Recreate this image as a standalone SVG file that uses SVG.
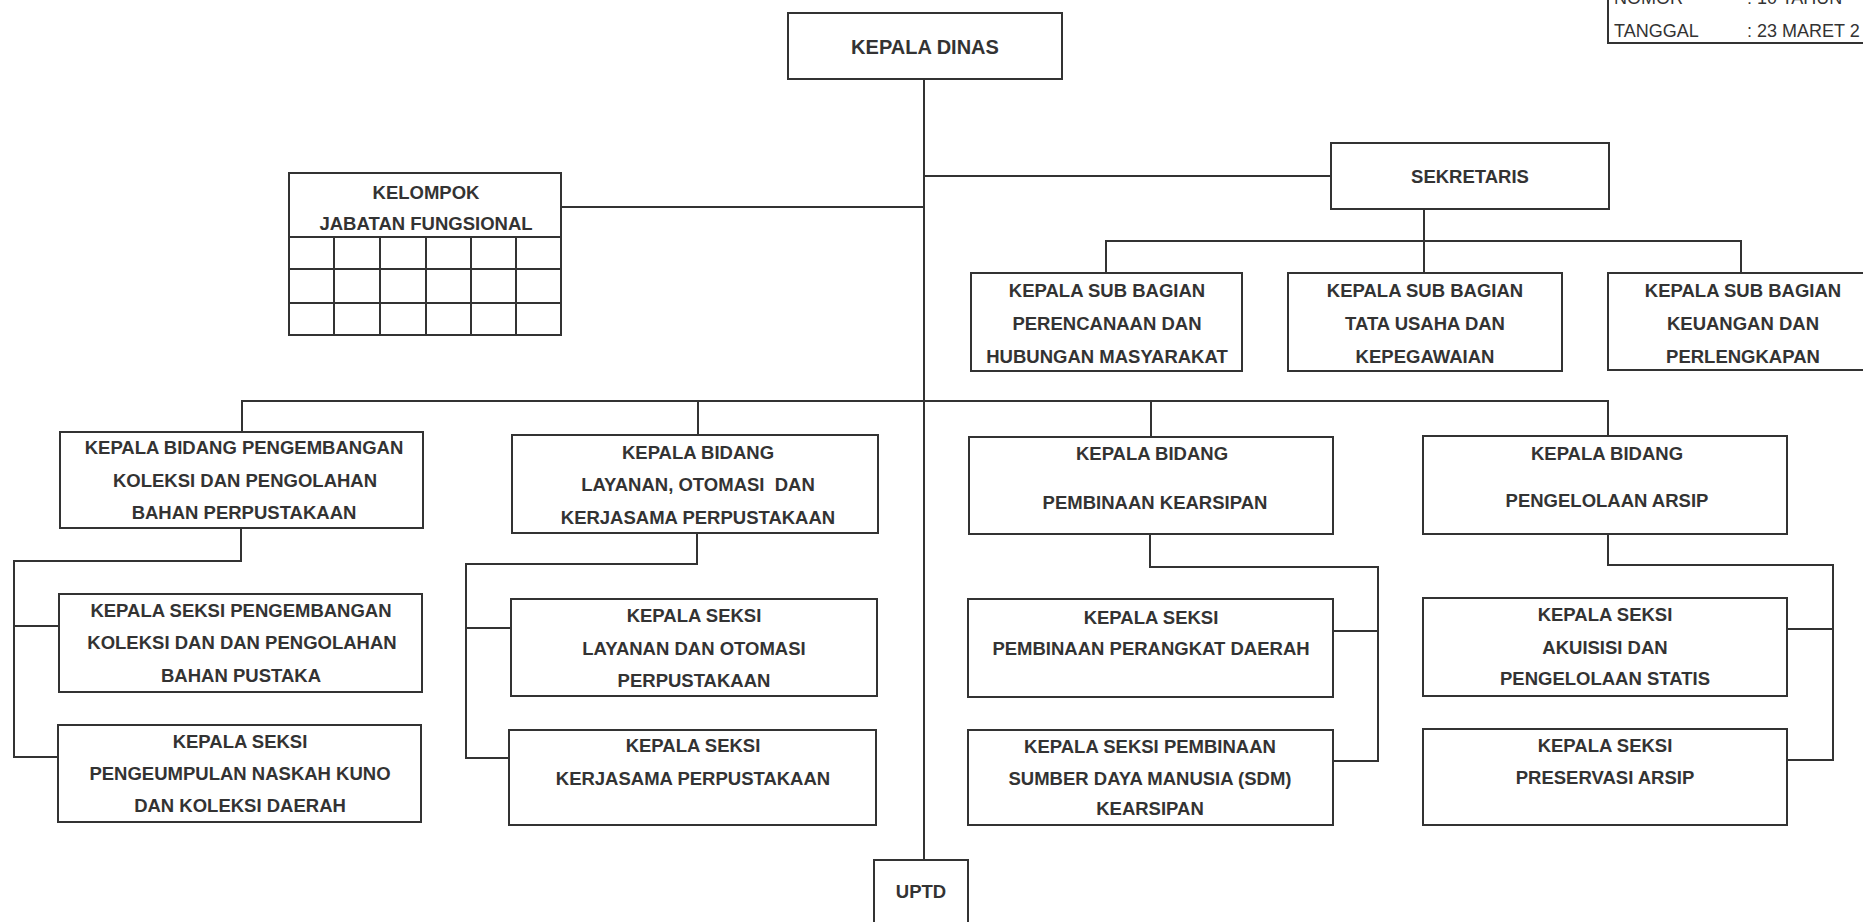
<svg xmlns="http://www.w3.org/2000/svg" width="1863" height="922" viewBox="0 0 1863 922">
<style>
.box{fill:#fff;stroke:#333;stroke-width:2}
.ln{fill:none;stroke:#333;stroke-width:2}
.t{font-family:"Liberation Sans",Arial,sans-serif;font-weight:bold;font-size:18.5px;fill:#333;text-anchor:middle}
.h{font-size:20px}
.r{font-family:"Liberation Sans",Arial,sans-serif;font-size:18px;fill:#333}
</style>
<rect width="1863" height="922" fill="#fff"/>
<g id="connectors" class="ln">
<path d="M924 79V860"/>
<path d="M561 207H924"/>
<path d="M924 176H1331"/>
<path d="M1424 209V273M1106 273V241H1741V273"/>
<path d="M242 432V401H1608V436M698 401V435M1151 401V437"/>
<path d="M241 528V561H14V757H58M14 626H59"/>
<path d="M697 533V564H466V758H509M466 628H511"/>
<path d="M1150 534V567H1378V761H1333M1378 631H1333"/>
<path d="M1608 534V565H1833V760H1787M1833 629H1787"/>
</g>
<g id="legend">
<path class="ln" d="M1608 -2V43H1865"/>
<text class="r" x="1614" y="4">NOMOR</text>
<text class="r" x="1747" y="4">: 10 TAHUN</text>
<text class="r" x="1614" y="37">TANGGAL</text>
<text class="r" x="1747" y="37">: 23 MARET 2</text>
</g>
<g id="kepala-dinas">
<rect class="box" x="788" y="13" width="274" height="66"/>
<text class="t h" x="925" y="54">KEPALA DINAS</text>
</g>
<g id="kelompok">
<rect class="box" x="289" y="173" width="272" height="162"/>
<path class="ln" d="M289 237H561M289 269H561M289 303H561M334 237V335M380 237V335M426 237V335M471 237V335M516 237V335"/>
<text class="t" x="426" y="199">KELOMPOK</text>
<text class="t" x="426" y="230">JABATAN FUNGSIONAL</text>
</g>
<g id="sekretaris">
<rect class="box" x="1331" y="143" width="278" height="66"/>
<text class="t" x="1470" y="183">SEKRETARIS</text>
</g>
<g id="subbag-perencanaan">
<rect class="box" x="971" y="273" width="271" height="98"/>
<text class="t" x="1107" y="297">KEPALA SUB BAGIAN</text>
<text class="t" x="1107" y="330">PERENCANAAN DAN</text>
<text class="t" x="1107" y="363">HUBUNGAN MASYARAKAT</text>
</g>
<g id="subbag-tatausaha">
<rect class="box" x="1288" y="273" width="274" height="98"/>
<text class="t" x="1425" y="297">KEPALA SUB BAGIAN</text>
<text class="t" x="1425" y="330">TATA USAHA DAN</text>
<text class="t" x="1425" y="363">KEPEGAWAIAN</text>
</g>
<g id="subbag-keuangan">
<rect class="box" x="1608" y="273" width="270" height="97"/>
<text class="t" x="1743" y="297">KEPALA SUB BAGIAN</text>
<text class="t" x="1743" y="330">KEUANGAN DAN</text>
<text class="t" x="1743" y="363">PERLENGKAPAN</text>
</g>
<g id="bidang-pengembangan">
<rect class="box" x="60" y="432" width="363" height="96"/>
<text class="t" x="244" y="454">KEPALA BIDANG PENGEMBANGAN</text>
<text class="t" x="245" y="487">KOLEKSI DAN PENGOLAHAN</text>
<text class="t" x="244" y="519">BAHAN PERPUSTAKAAN</text>
</g>
<g id="seksi-pengembangan">
<rect class="box" x="59" y="594" width="363" height="98"/>
<text class="t" x="241" y="617">KEPALA SEKSI PENGEMBANGAN</text>
<text class="t" x="242" y="649">KOLEKSI DAN DAN PENGOLAHAN</text>
<text class="t" x="241" y="682">BAHAN PUSTAKA</text>
</g>
<g id="seksi-naskah">
<rect class="box" x="58" y="725" width="363" height="97"/>
<text class="t" x="240" y="748">KEPALA SEKSI</text>
<text class="t" x="240" y="780">PENGEUMPULAN NASKAH KUNO</text>
<text class="t" x="240" y="812">DAN KOLEKSI DAERAH</text>
</g>
<g id="bidang-layanan">
<rect class="box" x="512" y="435" width="366" height="98"/>
<text class="t" x="698" y="459">KEPALA BIDANG</text>
<text class="t" x="698" y="491">LAYANAN, OTOMASI&#160; DAN</text>
<text class="t" x="698" y="524">KERJASAMA PERPUSTAKAAN</text>
</g>
<g id="seksi-layanan">
<rect class="box" x="511" y="599" width="366" height="97"/>
<text class="t" x="694" y="622">KEPALA SEKSI</text>
<text class="t" x="694" y="655">LAYANAN DAN OTOMASI</text>
<text class="t" x="694" y="687">PERPUSTAKAAN</text>
</g>
<g id="seksi-kerjasama">
<rect class="box" x="509" y="730" width="367" height="95"/>
<text class="t" x="693" y="752">KEPALA SEKSI</text>
<text class="t" x="693" y="785">KERJASAMA PERPUSTAKAAN</text>
</g>
<g id="bidang-pembinaan">
<rect class="box" x="969" y="437" width="364" height="97"/>
<text class="t" x="1152" y="460">KEPALA BIDANG</text>
<text class="t" x="1155" y="509">PEMBINAAN KEARSIPAN</text>
</g>
<g id="seksi-perangkat">
<rect class="box" x="968" y="599" width="365" height="98"/>
<text class="t" x="1151" y="624">KEPALA SEKSI</text>
<text class="t" x="1151" y="655">PEMBINAAN PERANGKAT DAERAH</text>
</g>
<g id="seksi-sdm">
<rect class="box" x="968" y="730" width="365" height="95"/>
<text class="t" x="1150" y="753">KEPALA SEKSI PEMBINAAN</text>
<text class="t" x="1150" y="785">SUMBER DAYA MANUSIA (SDM)</text>
<text class="t" x="1150" y="815">KEARSIPAN</text>
</g>
<g id="bidang-pengelolaan">
<rect class="box" x="1423" y="436" width="364" height="98"/>
<text class="t" x="1607" y="460">KEPALA BIDANG</text>
<text class="t" x="1607" y="507">PENGELOLAAN ARSIP</text>
</g>
<g id="seksi-akuisisi">
<rect class="box" x="1423" y="598" width="364" height="98"/>
<text class="t" x="1605" y="621">KEPALA SEKSI</text>
<text class="t" x="1605" y="654">AKUISISI DAN</text>
<text class="t" x="1605" y="685">PENGELOLAAN STATIS</text>
</g>
<g id="seksi-preservasi">
<rect class="box" x="1423" y="729" width="364" height="96"/>
<text class="t" x="1605" y="752">KEPALA SEKSI</text>
<text class="t" x="1605" y="784">PRESERVASI ARSIP</text>
</g>
<g id="uptd">
<rect class="box" x="874" y="860" width="94" height="70"/>
<text class="t" x="921" y="898">UPTD</text>
</g>
</svg>
